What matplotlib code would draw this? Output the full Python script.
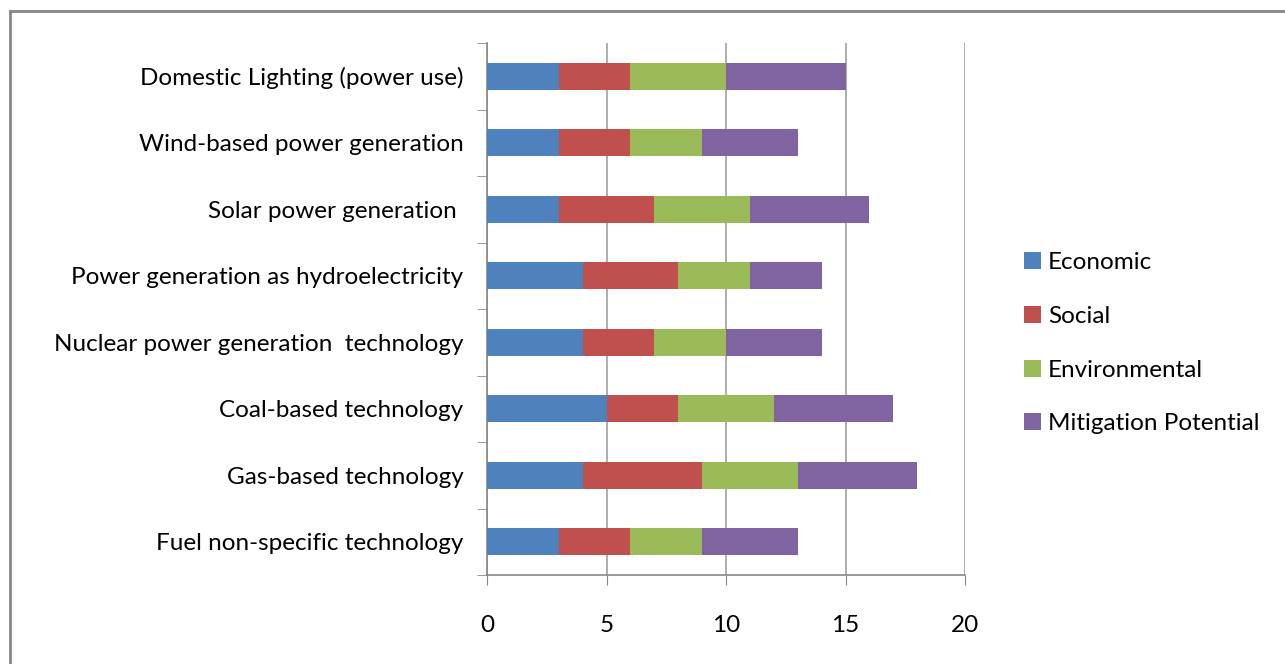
import matplotlib
matplotlib.use("Agg")
import matplotlib.pyplot as plt
from matplotlib.lines import Line2D
from matplotlib.ticker import FixedLocator
import numpy as np

plt.rcParams['font.family'] = ['Lato', 'DejaVu Sans']

categories = [
    "Fuel non-specific technology",
    "Gas-based technology",
    "Coal-based technology",
    "Nuclear power generation  technology",
    "Power generation as hydroelectricity",
    "Solar power generation ",
    "Wind-based power generation",
    "Domestic Lighting (power use)",
]
economic = [3, 4, 5, 4, 4, 3, 3, 3]
social = [3, 5, 3, 3, 4, 4, 3, 3]
environmental = [3, 4, 4, 3, 3, 4, 3, 4]
mitigation = [4, 5, 5, 4, 3, 5, 4, 5]

series_names = ["Economic", "Social", "Environmental", "Mitigation Potential"]
colors = ["#4F81BD", "#C0504D", "#9BBB59", "#8064A2"]
x_ticks = [0, 5, 10, 15, 20]

fig = plt.figure(figsize=(12.85, 6.64), dpi=100)
W, H = 1285, 664
ax = fig.add_axes([487 / W, 1 - 575 / H, (965 - 487) / W, (575 - 43) / H])

y = np.arange(len(categories))
left = np.zeros(len(categories))
for name, vals, col in zip(series_names, [economic, social, environmental, mitigation], colors):
    ax.barh(y, vals, left=left, height=0.4, color=col, label=name, zorder=3)
    left += np.array(vals)

ax.set_xlim(0, 20)
ax.set_ylim(-0.5, len(categories) - 0.5)
ax.set_xticks(x_ticks)
ax.set_xticklabels([str(t) for t in x_ticks], fontsize=17.5)
ax.set_yticks(y)
ax.set_yticklabels(categories, fontsize=17.5)
ax.yaxis.set_minor_locator(FixedLocator(np.arange(-0.5, len(categories), 1.0)))
ax.tick_params(axis='y', which='major', length=0, pad=17)
ax.tick_params(axis='y', which='minor', length=7, color='#888888', direction='out')
ax.tick_params(axis='x', length=7, color='#888888', direction='out', pad=22)

ax.grid(axis='x', color='#A0A0A0', linewidth=1.2, zorder=0)
for s in ['top', 'right']:
    ax.spines[s].set_visible(False)
for s in ['left', 'bottom']:
    ax.spines[s].set_color('#888888')
    ax.spines[s].set_linewidth(1.2)

leg = fig.legend(loc='upper left', bbox_to_anchor=(1002 / W, 1 - 230 / H),
                 frameon=False, fontsize=17.5, handlelength=0.7, handleheight=0.7,
                 handletextpad=0.3, labelspacing=1.35)

# Outer chart frame (left and top edges)
fig.add_artist(Line2D([9.5 / W, 9.5 / W], [0, 1 - 11 / H], transform=fig.transFigure,
                      color='#868686', linewidth=2))
fig.add_artist(Line2D([9.5 / W, 1], [1 - 11 / H, 1 - 11 / H], transform=fig.transFigure,
                      color='#868686', linewidth=2))

fig.savefig("out.png", dpi=100, facecolor='white')
